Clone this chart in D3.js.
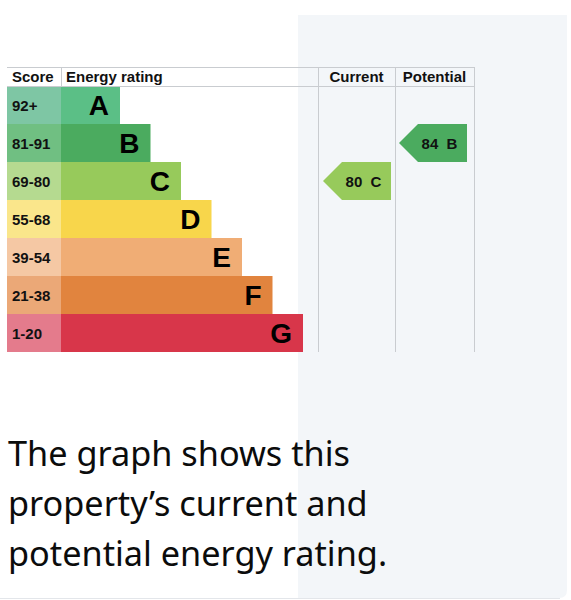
<!DOCTYPE html>
<html>
<head>
<meta charset="utf-8">
<script src="https://cdn.jsdelivr.net/npm/d3@7"></script>
<style>
  html, body { margin: 0; padding: 0; background: #fff; }
  svg { display: block; }
</style>
</head>
<body>
<script>
const bands = ["A", "B", "C", "D", "E", "F", "G"];
const scoreRanges = ["92+", "81-91", "69-80", "55-68", "39-54", "21-38", "1-20"];
const barColors = ["#5bbf86", "#4bab5f", "#97ca5b", "#f8d64b", "#f0ad75", "#e1843e", "#d8364a"];
const scoreColors = ["#7ec6a4", "#70bf82", "#b5da90", "#fae68b", "#f5c8a4", "#eba877", "#e47b8c"];
const ratings = [
  { column: "Current", score: 80, band: "C" },
  { column: "Potential", score: 84, band: "B" }
];
const columns = ["Score", "Energy rating", "Current", "Potential"];
const caption = ["The graph shows this", "property\u2019s current and", "potential energy rating."];

const W = 571, H = 600;
const svg = d3.select("body").append("svg").attr("width", W).attr("height", H);

// grey right-hand panel behind the chart
svg.append("path")
  .attr("d", "M298,15 H567 V590 Q567,598 559,598 H298 Z")
  .attr("fill", "#f3f6f9");
svg.append("line")
  .attr("x1", 0).attr("x2", 560).attr("y1", 598.5).attr("y2", 598.5)
  .attr("stroke", "#e3e6ea");

const tableTop = 67, headTop = 86, tableBottom = 352;
const colX = [7, 61, 318, 395, 474];

const y = d3.scaleBand().domain(bands).range([headTop, tableBottom]);
const barEnd = d3.scaleLinear().domain([0, bands.length - 1]).range([120, 303]);
const arrowCol = d3.scaleOrdinal().domain(["Current", "Potential"]).range([[323, 391], [399, 467]]);

const font = "'Liberation Sans', Arial, sans-serif";
const grid = "#c9ccd0";

// score cells and bars
const rows = svg.append("g").selectAll("g").data(bands).join("g");
rows.append("rect")
  .attr("x", colX[0]).attr("width", colX[1] - colX[0])
  .attr("y", d => y(d)).attr("height", y.bandwidth())
  .attr("fill", (d, i) => scoreColors[i]);
rows.append("rect")
  .attr("x", colX[1]).attr("width", (d, i) => barEnd(i) - colX[1])
  .attr("y", d => y(d)).attr("height", y.bandwidth())
  .attr("fill", (d, i) => barColors[i]);
rows.append("text")
  .attr("x", 12).attr("y", d => y(d) + y.bandwidth() / 2 + 5.5)
  .attr("font-family", font).attr("font-weight", "bold").attr("font-size", 15)
  .attr("fill", "#111")
  .text((d, i) => scoreRanges[i]);
rows.append("text")
  .attr("x", (d, i) => barEnd(i) - 11).attr("y", d => y(d) + y.bandwidth() / 2 + 10)
  .attr("text-anchor", "end")
  .attr("font-family", font).attr("font-weight", "bold").attr("font-size", 28)
  .attr("fill", "#000")
  .text(d => d);

// grid lines
const g = svg.append("g").attr("stroke", grid).attr("stroke-width", 1);
[tableTop, headTop].forEach(v => g.append("line")
  .attr("x1", colX[0]).attr("x2", colX[4]).attr("y1", v + 0.5).attr("y2", v + 0.5));
g.append("line").attr("x1", colX[1] + 0.5).attr("x2", colX[1] + 0.5)
  .attr("y1", tableTop).attr("y2", headTop);
colX.slice(2).forEach(v => g.append("line")
  .attr("x1", v + 0.5).attr("x2", v + 0.5).attr("y1", tableTop).attr("y2", tableBottom));

// header labels
svg.append("g").selectAll("text").data(columns).join("text")
  .attr("x", (d, i) => i < 2 ? colX[i] + 5 : (colX[i] + colX[i + 1]) / 2)
  .attr("y", 82)
  .attr("text-anchor", (d, i) => i < 2 ? "start" : "middle")
  .attr("font-family", font).attr("font-weight", "bold").attr("font-size", 15)
  .attr("fill", "#111")
  .text(d => d);

// rating arrows
const arrows = svg.append("g").selectAll("g").data(ratings).join("g");
arrows.append("path")
  .attr("d", d => {
    const [x0, x1] = arrowCol(d.column);
    const t = y(d.band), b = t + y.bandwidth(), m = t + y.bandwidth() / 2;
    return `M${x0},${m} L${x0 + 19},${t} H${x1} V${b} H${x0 + 19} Z`;
  })
  .attr("fill", d => barColors[bands.indexOf(d.band)]);
arrows.append("text")
  .attr("x", d => { const [x0, x1] = arrowCol(d.column); return (x0 + 19 + x1) / 2 - 3; })
  .attr("y", d => y(d.band) + y.bandwidth() / 2 + 5.5)
  .attr("text-anchor", "middle")
  .attr("font-family", font).attr("font-weight", "bold").attr("font-size", 15)
  .attr("fill", "#111")
  .style("white-space", "pre")
  .text(d => `${d.score}  ${d.band}`);

// caption
const cap = svg.append("g").selectAll("text").data(caption).join("text")
  .attr("x", 8).attr("y", (d, i) => 466 + i * 50)
  .attr("font-family", "'Noto Sans', sans-serif").attr("font-size", 34)
  .attr("fill", "#0b0c0c")
  .text(d => d);
const w0 = cap.node().getComputedTextLength();
cap.attr("font-size", 34 * 342 / w0);
</script>
</body>
</html>
